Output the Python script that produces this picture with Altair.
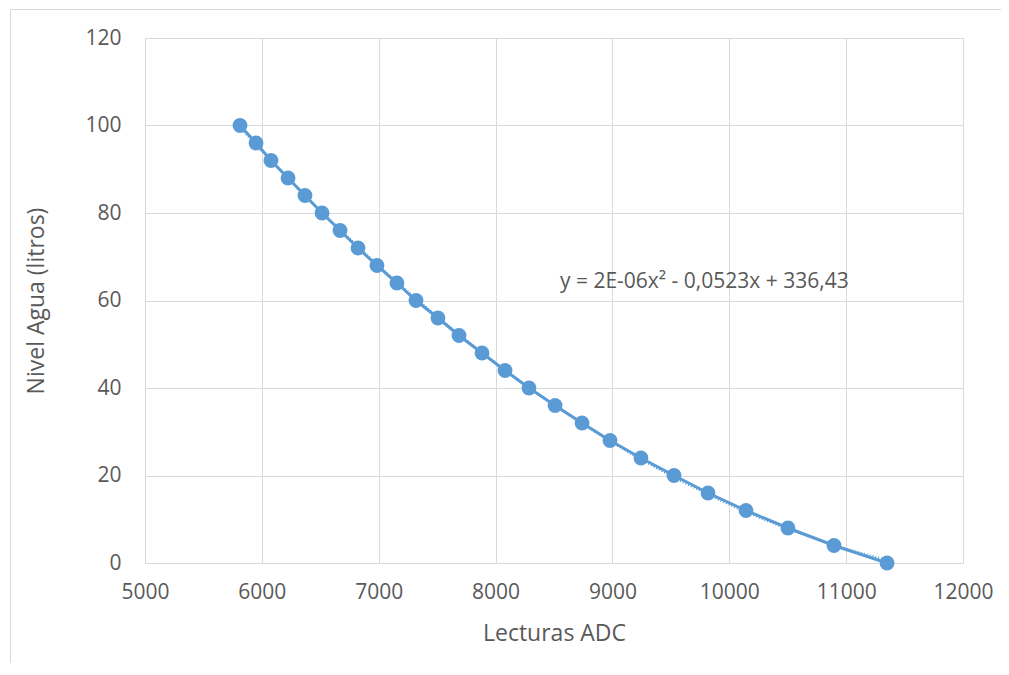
import altair as alt
import pandas as pd

# Data
adc = [5813, 5950, 6078, 6224, 6369, 6515, 6669, 6823, 6985, 7156, 7319, 7507, 7687,
       7884, 8081, 8286, 8509, 8740, 8979, 9244, 9527, 9818, 10143, 10502, 10896, 11350]
nivel = [100, 96, 92, 88, 84, 80, 76, 72, 68, 64, 60, 56, 52,
         48, 44, 40, 36, 32, 28, 24, 20, 16, 12, 8, 4, 0]
x_ticks = [5000, 6000, 7000, 8000, 9000, 10000, 11000, 12000]
y_ticks = [0, 20, 40, 60, 80, 100, 120]
eq_text = ["y = 2E-06x² - 0,0523x + 336,43"]
eq_x = [8551]
eq_y = [64.2]

df = pd.DataFrame({"adc": adc, "nivel": nivel})
eq_df = pd.DataFrame({"t": eq_text, "x": eq_x, "y": eq_y})

BLUE = "#5B9BD5"
GRID = "#D9D9D9"
TXT = "#595959"
FONT = "Open Sans"

xscale = alt.Scale(domain=[5000, 12000], nice=False, zero=False)
yscale = alt.Scale(domain=[0, 120], nice=False, zero=False)

xaxis = alt.Axis(values=x_ticks, format="d", title="Lecturas ADC", grid=True,
                 gridColor=GRID, domainColor=GRID, ticks=False, labelPadding=18,
                 labelFlush=False, labelOverlap=False,
                 labelColor=TXT, labelFontSize=21, labelFont=FONT,
                 titleColor=TXT, titleFontSize=23, titleFont=FONT, titleFontWeight="normal",
                 titleY=70, titleBaseline="middle")
yaxis = alt.Axis(values=y_ticks, format="d", title="Nivel Agua (litros)", grid=True,
                 gridColor=GRID, domainColor=GRID, ticks=False, labelPadding=24,
                 labelFlush=False, labelOverlap=False,
                 labelColor=TXT, labelFontSize=21, labelFont=FONT,
                 titleColor=TXT, titleFontSize=23, titleFont=FONT, titleFontWeight="normal",
                 titleX=-109, titleY=262.5, titleAngle=-90, titleAlign="center",
                 titleBaseline="middle")

base = alt.Chart(df)

border = alt.Chart(pd.DataFrame({"a": [0]})).mark_rect(
    fill="white", fillOpacity=0, stroke=GRID, strokeWidth=1
).encode(x=alt.value(-134.5), x2=alt.value(950), y=alt.value(-28.5), y2=alt.value(700))

line = base.mark_line(color=BLUE, strokeWidth=3).encode(
    x=alt.X("adc:Q", scale=xscale, axis=xaxis),
    y=alt.Y("nivel:Q", scale=yscale, axis=yaxis),
)

trend = base.transform_regression("adc", "nivel", method="poly", order=2).mark_line(
    color=BLUE, strokeWidth=2.5, strokeDash=[1, 2]
).encode(x=alt.X("adc:Q", scale=xscale), y=alt.Y("nivel:Q", scale=yscale))

points = base.mark_circle(color=BLUE, size=220, opacity=1).encode(
    x=alt.X("adc:Q", scale=xscale), y=alt.Y("nivel:Q", scale=yscale)
)

eq = alt.Chart(eq_df).mark_text(align="left", baseline="middle", font=FONT,
                                 fontSize=21, color=TXT).encode(
    x=alt.X("x:Q", scale=xscale), y=alt.Y("y:Q", scale=yscale), text="t:N"
)

chart = alt.layer(border, trend, line, points, eq).properties(
    width=818, height=525,
    autosize=alt.AutoSizeParams(type="none"),
    padding={"left": 137, "top": 30, "right": 38, "bottom": 100},
).configure_view(stroke=None).configure(background="white")

chart.save("out.html", embed_options={"renderer": "svg", "actions": False})
